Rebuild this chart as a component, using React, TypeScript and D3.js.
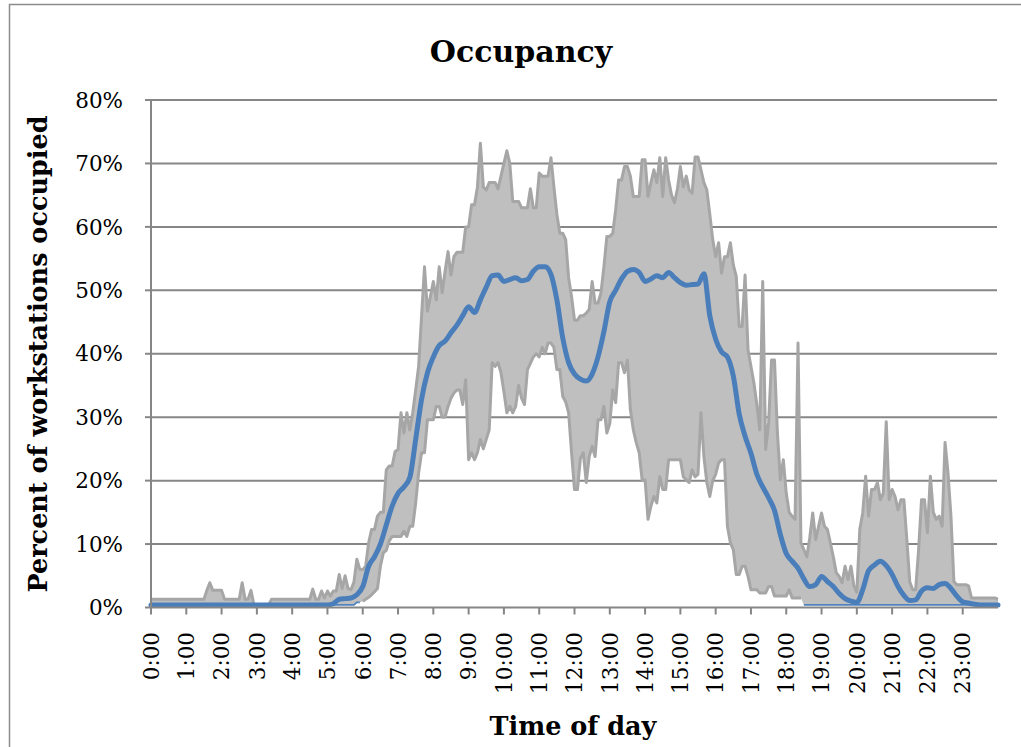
import React from "react";
import * as d3 from "d3";

// ---- Data -------------------------------------------------------------
const hourLabels = [
  "0:00", "1:00", "2:00", "3:00", "4:00", "5:00", "6:00", "7:00", "8:00", "9:00",
  "10:00", "11:00", "12:00", "13:00", "14:00", "15:00", "16:00", "17:00", "18:00",
  "19:00", "20:00", "21:00", "22:00", "23:00",
];
const yTicks = [0, 10, 20, 30, 40, 50, 60, 70, 80];

// band (max / min) sampled every 5 minutes, mean every 10 minutes
const bandStepMinutes = 5;
const meanStepMinutes = 10;

const maxPct = [
  1.3, 1.3, 1.3, 1.3, 1.3, 1.3, 1.3, 1.3, 1.3, 1.3, 1.3, 1.3,
  1.3, 1.3, 1.3, 1.3, 1.3, 1.3, 1.3, 2.7, 3.9, 2.7, 2.7, 2.7,
  2.7, 1.3, 1.3, 1.3, 1.3, 1.3, 1.3, 3.9, 1.3, 1.3, 2.7, 0.4,
  0.4, 0.4, 0.4, 0.4, 0.4, 1.3, 1.3, 1.3, 1.3, 1.3, 1.3, 1.3,
  1.3, 1.3, 1.3, 1.3, 1.3, 1.3, 1.3, 2.9, 1.3, 1.3, 2.6, 1.5,
  2.6, 1.8, 2.6, 2.6, 5.2, 3.0, 5.0, 3.0, 2.8, 4.0, 7.6, 6.0,
  6.0, 6.5, 10.2, 12.3, 12.3, 14.4, 15.0, 15.0, 21.7, 22.3, 22.3, 24.6,
  24.9, 30.7, 27.5, 30.7, 28.0, 30.7, 34.3, 38.0, 45.9, 53.7, 46.7, 49.0,
  51.4, 48.5, 53.7, 49.6, 53.0, 56.1, 52.4, 55.3, 56.0, 56.0, 56.0, 60.0,
  60.0, 63.5, 63.5, 66.3, 73.2, 66.3, 65.8, 67.0, 67.0, 67.0, 66.0, 68.0,
  70.0, 72.0, 70.0, 64.0, 64.0, 64.0, 63.0, 63.0, 63.0, 66.0, 63.0, 63.0,
  68.5, 68.0, 68.0, 68.0, 70.9, 66.3, 62.0, 59.0, 59.0, 58.0, 52.0, 49.0,
  45.3, 45.3, 46.0, 46.0, 46.4, 47.0, 51.4, 48.0, 48.0, 49.6, 53.7, 58.5,
  58.5, 59.0, 62.7, 67.4, 67.4, 69.5, 69.5, 68.0, 64.8, 64.8, 64.8, 70.6,
  70.6, 64.8, 67.0, 69.0, 67.0, 70.9, 64.8, 70.9, 67.4, 65.0, 63.8, 66.0,
  69.5, 66.3, 68.0, 65.8, 65.3, 71.0, 71.0, 69.0, 67.0, 65.8, 62.0, 58.0,
  55.3, 57.5, 52.7, 55.3, 55.3, 57.5, 54.0, 52.2, 44.3, 44.3, 52.4, 40.6,
  38.0, 35.4, 32.0, 28.0, 51.4, 24.9, 29.1, 39.0, 39.0, 27.5, 20.1, 23.3,
  18.0, 15.0, 14.4, 13.9, 41.7, 10.2, 9.1, 8.0, 11.0, 14.9, 10.7, 12.8,
  14.9, 12.8, 12.3, 10.2, 8.0, 5.5, 4.9, 3.9, 6.5, 4.4, 6.5, 3.4,
  2.4, 12.3, 14.9, 20.7, 14.4, 18.6, 18.6, 19.7, 17.0, 18.0, 29.3, 17.0,
  18.6, 17.5, 15.4, 17.0, 17.0, 10.7, 4.0, 2.8, 2.8, 9.1, 17.0, 17.0,
  11.8, 20.7, 15.0, 13.9, 14.4, 12.8, 26.0, 21.2, 14.4, 4.1, 3.6, 3.6,
  3.6, 3.6, 3.4, 1.5, 1.5, 1.5, 1.5, 1.5, 1.5, 1.5, 1.5, 1.5,
  1.3,
];

const minPct = [
  0.4, 0.4, 0.4, 0.4, 0.4, 0.4, 0.4, 0.4, 0.4, 0.4, 0.4, 0.4,
  0.4, 0.4, 0.4, 0.4, 0.4, 0.4, 0.4, 0.4, 0.4, 0.4, 0.4, 0.4,
  0.4, 0.4, 0.4, 0.4, 0.4, 0.4, 0.4, 0.4, 0.4, 0.4, 0.4, 0.4,
  0.4, 0.4, 0.4, 0.4, 0.4, 0.4, 0.4, 0.4, 0.4, 0.4, 0.4, 0.4,
  0.4, 0.4, 0.4, 0.4, 0.4, 0.4, 0.4, 0.4, 0.4, 0.4, 0.4, 0.4,
  0.4, 0.4, 0.4, 0.4, 0.4, 0.4, 0.4, 0.4, 0.4, 0.4, 0.8, 0.8,
  1.0, 1.3, 1.6, 2.0, 2.5, 3.0, 6.5, 8.6, 9.0, 10.5, 11.2, 11.2,
  11.2, 11.2, 12.0, 11.2, 12.8, 12.8, 16.5, 21.2, 24.4, 24.4, 29.6, 29.6,
  29.6, 31.7, 31.7, 30.0, 30.0, 31.7, 33.0, 33.8, 34.3, 34.3, 32.0, 35.9,
  23.3, 24.4, 23.3, 24.4, 26.5, 25.0, 26.5, 28.0, 38.6, 38.0, 38.6, 37.0,
  34.0, 30.7, 31.7, 30.7, 31.7, 35.0, 33.0, 32.0, 37.5, 38.5, 39.5, 40.0,
  39.5, 41.0, 40.0, 41.7, 41.7, 41.0, 37.5, 37.5, 33.3, 32.4, 30.7, 24.4,
  18.6, 18.6, 23.5, 24.4, 19.7, 23.8, 25.4, 23.8, 29.6, 29.6, 31.7, 27.5,
  29.0, 34.3, 32.3, 38.6, 38.6, 37.0, 39.0, 31.2, 28.0, 26.0, 24.4, 20.1,
  20.1, 13.9, 16.0, 17.5, 16.5, 20.6, 18.6, 18.6, 23.3, 23.3, 23.3, 23.3,
  23.3, 20.6, 20.1, 19.7, 21.7, 20.6, 21.0, 30.7, 23.8, 19.7, 17.5, 20.0,
  21.0, 22.8, 23.3, 23.3, 12.8, 10.2, 9.1, 5.2, 5.2, 6.5, 6.5, 4.9,
  2.8, 2.8, 2.8, 2.3, 2.3, 2.3, 3.3, 3.3, 1.8, 1.8, 1.8, 1.8,
  1.8, 2.8, 1.5, 1.5, 1.5, 1.5, 0.4, 0.4, 0.4, 0.4, 0.4, 0.4,
  0.4, 0.4, 0.4, 0.4, 0.4, 0.4, 0.4, 0.4, 0.4, 0.4, 0.4, 0.4,
  0.4, 0.4, 0.4, 0.4, 0.4, 0.4, 0.4, 0.4, 0.4, 0.4, 0.4, 0.4,
  0.4, 0.4, 0.4, 0.4, 0.4, 0.4, 0.4, 0.4, 0.4, 0.4, 0.4, 0.4,
  0.4, 0.4, 0.4, 0.4, 0.4, 0.4, 0.4, 0.4, 0.4, 0.4, 0.4, 0.4,
  0.4, 0.4, 0.4, 0.4, 0.4, 0.4, 0.4, 0.4, 0.4, 0.4, 0.4, 0.4,
  0.4,
];

const meanPct = [
  0.4, 0.4, 0.4, 0.4, 0.4, 0.4, 0.4, 0.4, 0.4, 0.4, 0.4, 0.4,
  0.4, 0.4, 0.4, 0.4, 0.4, 0.4, 0.4, 0.4, 0.4, 0.4, 0.4, 0.4,
  0.4, 0.4, 0.4, 0.4, 0.4, 0.4, 0.4, 0.6, 1.3, 1.4, 1.5, 2.0,
  3.3, 6.5, 8.0, 10.0, 13.0, 16.0, 18.0, 19.0, 20.5, 26.5, 32.8, 37.0,
  39.5, 41.3, 42.0, 43.3, 44.5, 46.0, 47.4, 46.5, 48.5, 50.5, 52.3, 52.4,
  51.4, 51.7, 52.0, 51.5, 51.7, 53.0, 53.7, 53.7, 52.5, 48.5, 42.5, 38.6,
  36.8, 36.0, 35.7, 36.8, 39.5, 43.5, 48.2, 50.0, 51.8, 53.0, 53.3, 52.8,
  51.4, 51.8, 52.3, 52.0, 52.8, 52.0, 51.2, 50.8, 50.9, 51.0, 52.6, 46.0,
  42.3, 40.3, 39.5, 36.5, 30.5, 27.0, 24.3, 21.0, 19.0, 17.3, 15.3, 11.5,
  8.5, 7.3, 6.2, 4.5, 3.3, 3.6, 4.9, 4.1, 3.3, 2.2, 1.4, 1.0,
  0.8, 2.8, 5.8, 6.7, 7.3, 6.6, 5.2, 3.3, 1.9, 1.1, 1.2, 2.6,
  3.1, 3.0, 3.6, 3.8, 3.0, 1.8, 0.9, 0.7, 0.5, 0.4, 0.4, 0.4,
  0.4,
];

// ---- Chart ------------------------------------------------------------
const FONT = "'DejaVu Serif', 'Liberation Serif', serif";
const GRID = "#868686";

export default function App() {
  const W = 1021;
  const H = 747;
  const left = 151;
  const right = 998;
  const top = 100;
  const bottom = 607.5;

  const x = d3.scaleLinear().domain([0, 24]).range([left, right]);
  const y = d3.scaleLinear().domain([0, 80]).range([bottom, top]);

  const band = maxPct.map((v, i) => ({
    t: (i * bandStepMinutes) / 60,
    hi: v,
    lo: minPct[i],
  }));
  const mean = meanPct.map((v, i) => ({ t: (i * meanStepMinutes) / 60, v }));

  const areaGen = d3
    .area<{ t: number; hi: number; lo: number }>()
    .x((d) => x(d.t))
    .y0((d) => y(d.lo))
    .y1((d) => y(d.hi));
  const hiLine = d3
    .line<{ t: number; hi: number; lo: number }>()
    .x((d) => x(d.t))
    .y((d) => y(d.hi));
  const loLine = d3
    .line<{ t: number; hi: number; lo: number }>()
    .x((d) => x(d.t))
    .y((d) => y(d.lo))
    .defined((d) => d.lo >= 1);
  const floorLine = d3
    .line<{ t: number; hi: number; lo: number }>()
    .x((d) => x(d.t))
    .y((d) => y(d.lo))
    .defined((d) => d.lo < 1);
  const meanLine = d3
    .line<{ t: number; v: number }>()
    .x((d) => x(d.t))
    .y((d) => y(d.v))
    .curve(d3.curveMonotoneX);

  const hours = hourLabels.map((_, i) => i);

  return (
    <svg
      width={W}
      height={H}
      viewBox={`0 0 ${W} ${H}`}
      style={{ position: "absolute", left: 0, top: 0, display: "block", background: "#fff" }}
    >
      <rect x={0} y={0} width={W} height={H} fill="#fff" />
      {/* chart border */}
      <path d={`M9.5,${H} V4.5 H${W}`} fill="none" stroke="#8c8c8c" strokeWidth={1.5} />

      {/* title */}
      <text x={521} y={62} textAnchor="middle" fontFamily={FONT} fontWeight="bold" fontSize={30} fill="#000">
        Occupancy
      </text>

      {/* gridlines */}
      {yTicks.slice(1).map((v) => (
        <line key={`g${v}`} x1={left} x2={right - 1} y1={y(v)} y2={y(v)} stroke={GRID} strokeWidth={2} />
      ))}

      {/* band */}
      <path d={areaGen(band) || ""} fill="#BFBFBF" stroke="none" />
      <path d={hiLine(band) || ""} fill="none" stroke="#A6A6A6" strokeWidth={3} strokeLinejoin="round" />
      <path d={loLine(band) || ""} fill="none" stroke="#A6A6A6" strokeWidth={3} strokeLinejoin="round" />
      <path d={floorLine(band) || ""} fill="none" stroke="#4F81BD" strokeWidth={1.8} />

      {/* mean */}
      <path d={meanLine(mean) || ""} fill="none" stroke="#4A7EBB" strokeWidth={5} strokeLinejoin="round" strokeLinecap="round" />

      {/* axes */}
      <line x1={left} x2={left} y1={top} y2={bottom} stroke={GRID} strokeWidth={2} />
      <line x1={left} x2={right} y1={bottom} y2={bottom} stroke={GRID} strokeWidth={2} />
      {yTicks.map((v) => (
        <g key={`yt${v}`}>
          <line x1={left - 6} x2={left} y1={y(v)} y2={y(v)} stroke={GRID} strokeWidth={2} />
          <text
            x={123}
            y={y(v)}
            dy="0.36em"
            textAnchor="end"
            fontFamily={FONT}
            fontSize={21.5}
            fill="#000"
          >
            {`${v}%`}
          </text>
        </g>
      ))}
      {hours.map((h) => (
        <g key={`xt${h}`}>
          <line x1={x(h)} x2={x(h)} y1={bottom} y2={bottom + 7} stroke={GRID} strokeWidth={2} />
          <text
            transform={`translate(${x(h)},${632}) rotate(-90)`}
            textAnchor="end"
            dy="0.36em"
            fontFamily={FONT}
            fontSize={21.5}
            fill="#000"
          >
            {hourLabels[h]}
          </text>
        </g>
      ))}

      {/* axis titles */}
      <text
        transform={`translate(47,354) rotate(-90)`}
        textAnchor="middle"
        fontFamily={FONT}
        fontWeight="bold"
        fontSize={25.5}
        fill="#000"
      >
        Percent of workstations occupied
      </text>
      <text x={573} y={735} textAnchor="middle" fontFamily={FONT} fontWeight="bold" fontSize={25.5} fill="#000">
        Time of day
      </text>
    </svg>
  );
}
